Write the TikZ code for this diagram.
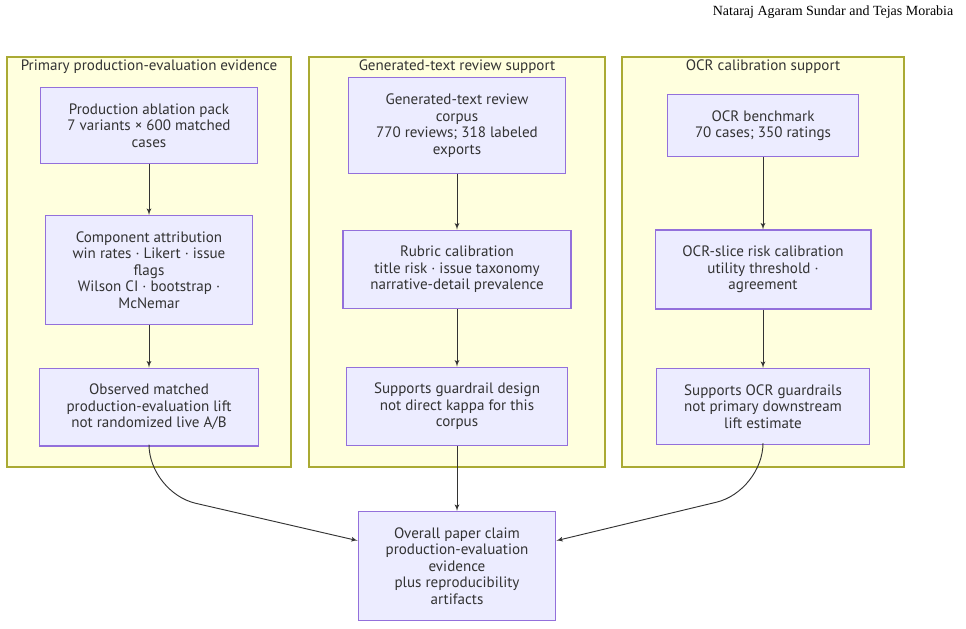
\documentclass[tikz,border=0pt]{standalone}
\usepackage{fontspec}
\setmainfont{PT Sans}
\newfontfamily\headfont{Liberation Serif}
\usepackage{tikz}
\usetikzlibrary{shapes,arrows,positioning}
\definecolor{boxfill}{HTML}{ECECFF}
\definecolor{boxline}{HTML}{9370DB}
\definecolor{groupfill}{HTML}{FFFFDE}
\definecolor{groupline}{HTML}{AAAA33}
\definecolor{ink}{HTML}{333333}

\begin{document}
\begin{tikzpicture}[
        x=0.75pt, y=-0.75pt,
        node distance=108pt, auto,
        block/.style={rectangle, draw=boxline, fill=boxfill, align=center, inner xsep=20.5pt, inner ysep=12pt, line width=0.8pt, text=ink, font=\fontsize{11.3}{12.4}\selectfont},
        group/.style={rectangle, draw=groupline, fill=groupfill, line width=0.8pt, inner sep=0pt, minimum height=307.5pt},
        grouptitle/.style={text=ink, font=\fontsize{11.3}{12.4}\selectfont},
        line/.style={draw=ink, -latex', line width=0.7pt}
    ]
    \useasboundingbox (0,0) rectangle (966,628);
    \node [anchor=east, font=\headfont\fontsize{10.5}{12}\selectfont] (authors) at (958,12) {Nataraj Agaram Sundar and Tejas Morabia};
    % three evidence groups
    \node [group, minimum width=213pt] (primary) at (149,262) {};
    \node [group, minimum width=222pt] (review) at (457,262) {};
    \node [group, minimum width=211.5pt] (ocr) at (763,262) {};
    \node [grouptitle] (primarytitle) at (149,67) {Primary production-evaluation evidence};
    \node [grouptitle] (reviewtitle) at (457,67) {Generated-text review support};
    \node [grouptitle] (ocrtitle) at (763,67) {OCR calibration support};
    % primary column
    \node [block] (ablation) at (149,125.5) {Production ablation pack\\7 variants × 600 matched\\cases};
    \node [block, below of=ablation, node distance=108.4pt] (attribution) {Component attribution\\win rates · Likert · issue\\flags\\Wilson CI · bootstrap ·\\McNemar};
    \node [block, below of=attribution, node distance=102.75pt] (lift) {Observed matched\\production-evaluation lift\\not randomized live A/B};
    % review column
    \node [block, right of=ablation, node distance=231pt] (corpus) {Generated-text review\\corpus\\770 reviews; 318 labeled\\exports};
    \node [block, below of=corpus, node distance=108pt] (rubric) {Rubric calibration\\title risk · issue taxonomy\\narrative-detail prevalence};
    \node [block, below of=rubric, node distance=102.75pt] (guardrail) {Supports guardrail design\\not direct kappa for this\\corpus};
    % ocr column
    \node [block, right of=corpus, node distance=229.5pt] (benchmark) {OCR benchmark\\70 cases; 350 ratings};
    \node [block, below of=benchmark, node distance=108pt] (slice) {OCR-slice risk calibration\\utility threshold ·\\agreement};
    \node [block, below of=slice, node distance=102.75pt] (ocrguard) {Supports OCR guardrails\\not primary downstream\\lift estimate};
    % overall claim
    \node [block] (claim) at (457,566) {Overall paper claim\\production-evaluation\\evidence\\plus reproducibility\\artifacts};
    \path [line] (ablation) -- (attribution);
    \path [line] (attribution) -- (lift);
    \path [line] (corpus) -- (rubric);
    \path [line] (rubric) -- (guardrail);
    \path [line] (benchmark) -- (slice);
    \path [line] (slice) -- (ocrguard);
    \path [line] (guardrail) -- (claim);
    \path [line, rounded corners=36pt] (lift.south) -- ++(0,46) -- ([yshift=19pt]claim.west);
    \path [line, rounded corners=36pt] (ocrguard.south) -- ++(0,46) -- ([yshift=19pt]claim.east);
    \end{tikzpicture}
\end{document}
